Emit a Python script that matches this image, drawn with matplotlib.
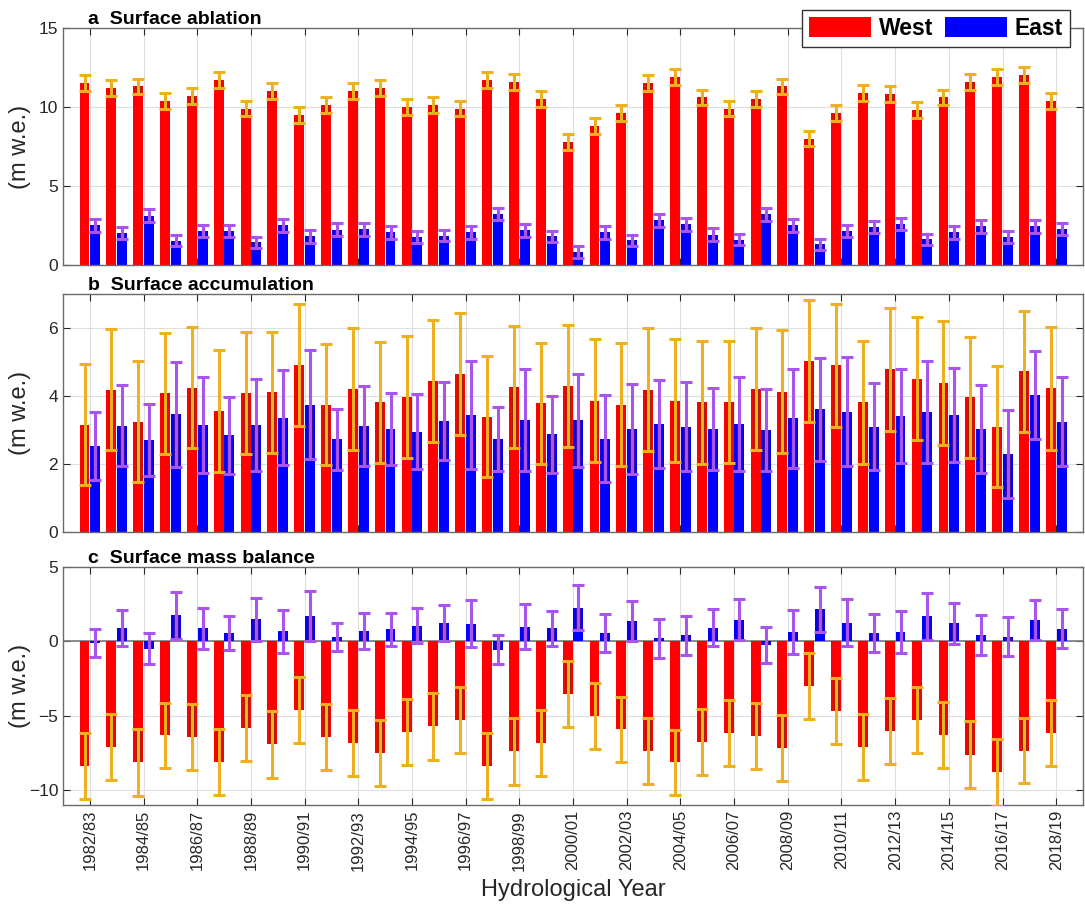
import numpy as np
import matplotlib
matplotlib.use('Agg')
import matplotlib.pyplot as plt
from matplotlib.lines import Line2D
from matplotlib.patches import Patch

plt.rcParams['font.family'] = ['Liberation Sans', 'DejaVu Sans']

# hydrological years 1982/83 .. 2018/19
years = [f"{y}/{str(y + 1)[-2:]}" for y in range(1982, 2019)]

# surface ablation (m w.e.)
abl_west = [11.5, 11.2, 11.3, 10.4, 10.7, 11.7, 9.9, 11.0, 9.5, 10.1,
            11.0, 11.2, 10.0, 10.1, 9.9, 11.7, 11.6, 10.5, 7.8, 8.8,
            9.6, 11.5, 11.9, 10.6, 9.9, 10.5, 11.3, 8.0, 9.6, 10.9,
            10.8, 9.8, 10.6, 11.6, 11.9, 12.0, 10.4]
abl_west_err = [0.5, 0.5, 0.5, 0.5, 0.5, 0.5, 0.5, 0.5, 0.5, 0.5,
                0.5, 0.5, 0.5, 0.5, 0.5, 0.5, 0.5, 0.5, 0.5, 0.5,
                0.5, 0.5, 0.5, 0.5, 0.5, 0.5, 0.5, 0.5, 0.5, 0.5,
                0.5, 0.5, 0.5, 0.5, 0.5, 0.5, 0.5]
abl_east = [2.50, 2.02, 3.13, 1.52, 2.15, 2.15, 1.43, 2.50, 1.81, 2.23,
            2.25, 2.06, 1.77, 1.85, 2.06, 3.22, 2.19, 1.81, 0.82, 2.06,
            1.56, 2.82, 2.57, 1.92, 1.60, 3.20, 2.50, 1.31, 2.15, 2.40,
            2.59, 1.64, 2.06, 2.44, 1.77, 2.44, 2.27]
abl_east_err = [0.4, 0.4, 0.4, 0.35, 0.4, 0.4, 0.35, 0.4, 0.4, 0.4,
                0.4, 0.4, 0.35, 0.35, 0.4, 0.4, 0.4, 0.35, 0.35, 0.4,
                0.35, 0.4, 0.4, 0.4, 0.35, 0.4, 0.4, 0.35, 0.4, 0.4,
                0.4, 0.35, 0.4, 0.4, 0.35, 0.4, 0.4]

# surface accumulation (m w.e.)
acc_west = [3.15, 4.18, 3.25, 4.08, 4.25, 3.55, 4.09, 4.11, 4.91, 3.74,
            4.21, 3.82, 3.98, 4.44, 4.64, 3.39, 4.27, 3.78, 4.29, 3.86,
            3.75, 4.18, 3.86, 3.82, 3.82, 4.20, 4.13, 5.03, 4.90, 3.82,
            4.78, 4.51, 4.39, 3.96, 3.10, 4.73, 4.23]
acc_west_err = [1.78, 1.78, 1.78, 1.78, 1.78, 1.79, 1.79, 1.78, 1.80, 1.78,
                1.79, 1.78, 1.79, 1.79, 1.79, 1.78, 1.79, 1.77, 1.79, 1.81,
                1.80, 1.81, 1.81, 1.81, 1.80, 1.79, 1.81, 1.79, 1.81, 1.81,
                1.80, 1.80, 1.82, 1.79, 1.79, 1.78, 1.81]
acc_east = [2.54, 3.13, 2.71, 3.46, 3.15, 2.85, 3.15, 3.36, 3.74, 2.73,
            3.12, 3.03, 2.95, 3.27, 3.44, 2.73, 3.29, 2.88, 3.29, 2.75,
            3.03, 3.18, 3.10, 3.03, 3.18, 3.00, 3.34, 3.61, 3.54, 3.10,
            3.41, 3.53, 3.44, 3.03, 2.29, 4.03, 3.25]
acc_east_err = [1.00, 1.20, 1.05, 1.55, 1.40, 1.13, 1.35, 1.40, 1.60, 0.90,
                1.17, 1.05, 1.10, 1.15, 1.60, 0.95, 1.50, 1.13, 1.37, 1.27,
                1.33, 1.30, 1.30, 1.20, 1.38, 1.20, 1.46, 1.52, 1.60, 1.27,
                1.38, 1.50, 1.37, 1.30, 1.30, 1.30, 1.30]

# surface mass balance (m w.e.)
smb_west = [-8.40, -7.11, -8.13, -6.32, -6.43, -8.13, -5.82, -6.93, -4.63, -6.43,
            -6.82, -7.49, -6.09, -5.71, -5.30, -8.35, -7.40, -6.82, -3.54, -5.01,
            -5.91, -7.34, -8.13, -6.77, -6.14, -6.37, -7.18, -3.00, -4.70, -7.07,
            -6.03, -5.30, -6.28, -7.61, -8.80, -7.34, -6.14]
smb_west_err = [2.21, 2.21, 2.23, 2.20, 2.23, 2.22, 2.21, 2.23, 2.22, 2.22,
                2.22, 2.22, 2.23, 2.23, 2.23, 2.22, 2.22, 2.22, 2.20, 2.21,
                2.20, 2.22, 2.20, 2.22, 2.22, 2.22, 2.23, 2.21, 2.22, 2.22,
                2.22, 2.23, 2.23, 2.23, 2.26, 2.21, 2.22]
smb_east = [-0.11, 0.90, -0.50, 1.75, 0.88, 0.58, 1.50, 0.69, 1.70, 0.30,
            0.72, 0.81, 1.05, 1.25, 1.20, -0.57, 1.00, 0.88, 2.27, 0.57,
            1.35, 0.20, 0.40, 0.93, 1.45, -0.22, 0.65, 2.15, 1.26, 0.57,
            0.65, 1.69, 1.21, 0.45, 0.33, 1.43, 0.86]
smb_east_err = [0.97, 1.20, 1.04, 1.60, 1.40, 1.16, 1.44, 1.44, 1.67, 0.93,
                1.20, 1.13, 1.18, 1.22, 1.60, 0.98, 1.52, 1.17, 1.49, 1.30,
                1.35, 1.33, 1.33, 1.23, 1.38, 1.20, 1.47, 1.52, 1.60, 1.30,
                1.40, 1.58, 1.38, 1.35, 1.32, 1.33, 1.33]

RED = '#ff0000'
BLUE = '#0000ff'
ORANGE = '#edb120'
PURPLE = '#a855f0'
AXCOL = '#262626'

x = np.arange(len(years))
bw = 0.37
off = 0.2

fig = plt.figure(figsize=(10.85, 9.08), dpi=100)
left, width = 0.0581, 0.9401
ax_a = fig.add_axes([left, 0.7082, width, 0.2610])
ax_b = fig.add_axes([left, 0.4141, width, 0.2621])
ax_c = fig.add_axes([left, 0.1134, width, 0.2621])


def draw_pair(ax, wv, we, ev, ee, dark_w, dark_e):
    bars_w = ax.bar(x - off, wv, bw, color=RED, zorder=2)
    bars_e = ax.bar(x + off, ev, bw, color=BLUE, zorder=2)
    # darker rim where an error line crosses its own bar
    for bars, vals, errs, c in ((bars_w, wv, we, dark_w), (bars_e, ev, ee, dark_e)):
        for rect, v, e in zip(bars, vals, errs):
            xc = rect.get_x() + rect.get_width() / 2
            ln = Line2D([xc, xc], [v - e, v + e], color=c, lw=3.8, zorder=2.5,
                        solid_capstyle='butt')
            ax.add_line(ln)
            ln.set_clip_path(rect)
    ax.errorbar(x - off, wv, yerr=we, fmt='none', ecolor=ORANGE, elinewidth=2.2,
                capsize=4.3, capthick=2.2, zorder=3)
    ax.errorbar(x + off, ev, yerr=ee, fmt='none', ecolor=PURPLE, elinewidth=2.2,
                capsize=4.3, capthick=2.2, zorder=3)


draw_pair(ax_a, abl_west, abl_west_err, abl_east, abl_east_err, '#a81c00', '#3a0ca0')
draw_pair(ax_b, acc_west, acc_west_err, acc_east, acc_east_err, '#a81c00', '#3a0ca0')
draw_pair(ax_c, smb_west, smb_west_err, smb_east, smb_east_err, '#a81c00', '#3a0ca0')
ax_c.axhline(0, color='#7a7a7a', lw=1.2, zorder=1.5)

ax_a.set_ylim(0, 15)
ax_a.set_yticks([0, 5, 10, 15])
ax_b.set_ylim(0, 7)
ax_b.set_yticks([0, 2, 4, 6])
ax_c.set_ylim(-11, 5)
ax_c.set_yticks([-10, -5, 0, 5])

titles = ['a  Surface ablation', 'b  Surface accumulation', 'c  Surface mass balance']
for ax, t in zip((ax_a, ax_b, ax_c), titles):
    ax.set_xlim(-1, 37)
    ax.set_xticks(x[::2])
    ax.set_axisbelow(True)
    ax.grid(True, color='#dedede', lw=0.8)
    ax.tick_params(direction='in', top=True, right=True, length=5, width=0.8,
                   colors=AXCOL, labelsize=12.5)
    for s in ax.spines.values():
        s.set_color('#6a6a6a')
        s.set_linewidth(1.0)
    ax.text(0.0245, 1.017, t, transform=ax.transAxes, fontsize=14,
            fontweight='bold', va='baseline', ha='left')
    pos = ax.get_position()
    fig.text(20 / 1085, pos.y0 + pos.height / 2, '(m w.e.)', rotation=90,
             ha='center', va='center', fontsize=17, color=AXCOL)

ax_a.set_xticklabels([])
ax_b.set_xticklabels([])
ax_c.set_xticklabels(years[::2], rotation=90, fontsize=12)
ax_c.set_xlabel('Hydrological Year', fontsize=17, color=AXCOL, labelpad=6)

handles = [Patch(facecolor=RED, edgecolor='none'), Patch(facecolor=BLUE, edgecolor='none')]
leg = fig.legend(handles, ['West', 'East'], loc='upper right', ncol=2,
                 bbox_to_anchor=(1070 / 1085, 1 - 10 / 908), borderaxespad=0,
                 prop={'weight': 'bold', 'size': 16.5}, handlelength=2.7,
                 handleheight=1.0, handletextpad=0.35, columnspacing=0.5,
                 borderpad=0.3, fancybox=False, framealpha=1)
leg.get_frame().set_edgecolor('#333333')
leg.get_frame().set_linewidth(1.0)

fig.savefig('out.png', dpi=100)
